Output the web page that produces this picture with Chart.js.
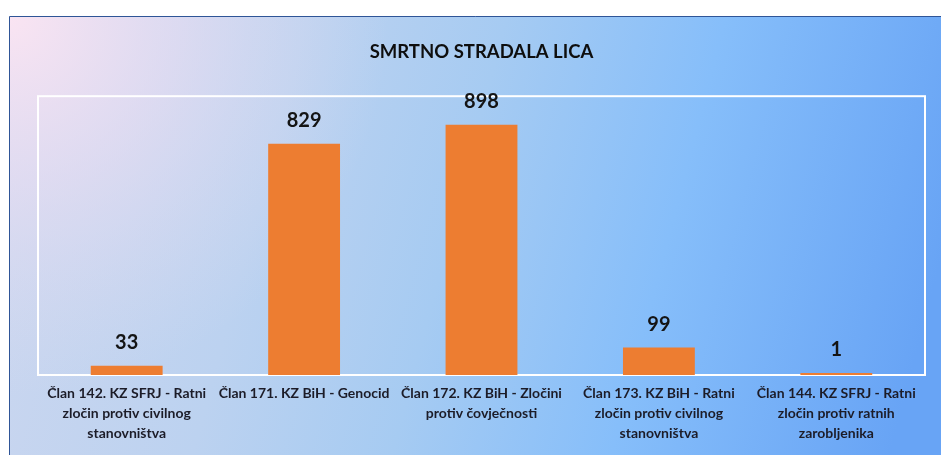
<!DOCTYPE html>
<html>
<head>
<meta charset="utf-8">
<script src="https://cdn.jsdelivr.net/npm/chart.js@4"></script>
<style>
  html, body { margin: 0; padding: 0; background: #fff; }
  #wrap { width: 941px; height: 455px; }
</style>
</head>
<body>
<div id="wrap"><canvas id="deathChart" width="941" height="455"></canvas></div>
<script>
// data
const categories = [
    ['Član 142. KZ SFRJ - Ratni', 'zločin protiv civilnog', 'stanovništva'],
    ['Član 171. KZ BiH - Genocid'],
    ['Član 172. KZ BiH - Zločini', 'protiv čovječnosti'],
    ['Član 173. KZ BiH - Ratni', 'zločin protiv civilnog', 'stanovništva'],
    ['Član 144. KZ SFRJ - Ratni', 'zločin protiv ratnih', 'zarobljenika']
];
const killed = [33, 829, 898, 99, 1];
const chartTitle = 'SMRTNO STRADALA LICA';

const FONT = 'Lato, "Open Sans", sans-serif';

// background gradient + outer frame
const backgroundPlugin = {
    id: 'bg',
    beforeDraw(chart) {
        const ctx = chart.ctx;
        const w = chart.width, h = chart.height;
        ctx.save();
        ctx.fillStyle = '#ffffff';
        ctx.fillRect(0, 0, w, h);
        // main left -> right blue
        const g = ctx.createLinearGradient(9, 16, w, 260);
        g.addColorStop(0, '#cdd7ef');
        g.addColorStop(0.3, '#bcd2f0');
        g.addColorStop(0.5, '#a6cbf2');
        g.addColorStop(0.72, '#86befa');
        g.addColorStop(1, '#68a4f5');
        ctx.fillStyle = g;
        ctx.fillRect(9, 16, w - 9, h - 16);
        // pink glow in the top-left corner
        const r = ctx.createRadialGradient(9, 16, 0, 9, 16, 380);
        r.addColorStop(0, 'rgba(250,228,242,1)');
        r.addColorStop(0.45, 'rgba(236,222,242,0.6)');
        r.addColorStop(1, 'rgba(220,220,240,0)');
        ctx.fillStyle = r;
        ctx.fillRect(9, 16, w - 9, h - 16);
        ctx.strokeStyle = '#2f5597';
        ctx.lineWidth = 1;
        ctx.beginPath();
        ctx.moveTo(9.5, h);
        ctx.lineTo(9.5, 16.5);
        ctx.lineTo(w, 16.5);
        ctx.stroke();
        ctx.restore();
    },
    beforeDatasetsDraw(chart) {
        const a = chart.chartArea;
        const ctx = chart.ctx;
        ctx.save();
        ctx.strokeStyle = '#ffffff';
        ctx.lineWidth = 2;
        ctx.strokeRect(a.left, a.top, a.right - a.left, a.bottom - a.top);
        ctx.restore();
    }
};

// value labels above bars
const valueLabels = {
    id: 'valueLabels',
    afterDatasetsDraw(chart) {
        const ctx = chart.ctx;
        const meta = chart.getDatasetMeta(0);
        ctx.save();
        ctx.font = 'bold 20px ' + FONT;
        ctx.fillStyle = '#141414';
        ctx.textAlign = 'center';
        ctx.textBaseline = 'middle';
        meta.data.forEach((bar, i) => {
            ctx.fillText(killed[i], bar.x, bar.y - 23);
        });
        ctx.restore();
    }
};

const ctx = document.getElementById('deathChart').getContext('2d');
new Chart(ctx, {
    type: 'bar',
    data: {
        labels: categories,
        datasets: [{
            data: killed,
            backgroundColor: '#ed7d31',
            borderWidth: 0,
            minBarLength: 2,
            categoryPercentage: 0.81,
            barPercentage: 0.5
        }]
    },
    options: {
        responsive: false,
        animation: false,
        layout: { padding: { left: 38, right: 16, top: 0, bottom: 0 } },
        plugins: {
            legend: { display: false },
            tooltip: { enabled: false },
            title: {
                display: true,
                text: chartTitle,
                color: '#0e0e0e',
                font: { family: FONT, size: 18.5, weight: 'bold', lineHeight: 1.2 },
                padding: { top: 41, bottom: 33 }
            }
        },
        scales: {
            y: {
                display: false,
                min: 0,
                max: 1000
            },
            x: {
                grid: { display: false },
                border: { display: false },
                afterFit(scale) { scale.height = 80; },
                ticks: {
                    color: '#1c1c28',
                    padding: 0,
                    maxRotation: 0,
                    autoSkip: false,
                    font: { family: FONT, size: 14, weight: 'bold', lineHeight: 1.45 }
                }
            }
        }
    },
    plugins: [backgroundPlugin, valueLabels]
});
</script>
</body>
</html>
